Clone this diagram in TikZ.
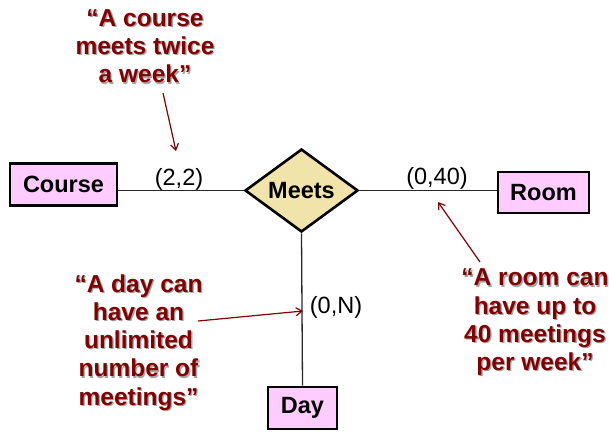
\documentclass[tikz,border=0pt]{standalone}
\usepackage{fontspec}
\setmainfont{Liberation Sans}
\usetikzlibrary{shapes.geometric,arrows.meta}
\definecolor{notered}{RGB}{130,0,0}
\definecolor{entpink}{RGB}{255,204,255}
\definecolor{relkhaki}{RGB}{240,228,170}
\definecolor{linegray}{RGB}{40,40,40}
% text with a soft grey drop shadow
\newcommand\shtxt[1]{\makebox[0pt][l]{\hspace{1.3pt}\raisebox{-1.3pt}{\textcolor{black!35}{#1}}}#1}
\tikzset{
  entity/.style={draw=black, line width=2.6pt, fill=entpink, inner sep=0pt,
    font=\fontsize{23.5}{27}\selectfont\bfseries},
  relship/.style={diamond, draw=black, line width=2.6pt, fill=relkhaki, inner sep=0pt,
    minimum width=113pt, minimum height=71pt, font=\fontsize{23.5}{27}\selectfont\bfseries},
  link/.style={draw=linegray, line width=1.3pt},
  card/.style={inner sep=0pt, font=\fontsize{23.5}{27}\selectfont},
  note/.style={inner sep=0pt, align=center, text=notered,
    font=\fontsize{24.5}{28.3}\selectfont\bfseries},
  pointer/.style={draw=notered, line width=1.2pt, -{Straight Barb[length=6pt,width=8pt]}}
}
\begin{document}
\begin{tikzpicture}[x=1pt,y=-1pt]
  \useasboundingbox (0,0) rectangle (609,431);
  % entities and relationship
  \node[entity, minimum width=107pt, minimum height=42pt] (course) at (63.5,184.5) {Course};
  \node[entity, minimum width=91pt, minimum height=41pt] (room) at (543.5,192.5) {Room};
  \node[entity, minimum width=69pt, minimum height=42pt] (day) at (302.5,408) {Day};
  \node[relship] (meets) at (301.5,190.5) {Meets};
  % connectors
  \draw[link] (meets.west) -- (meets.west -| course.east);
  \draw[link] (meets.east) -- (meets.east -| room.west);
  \draw[link] (meets.south) -- (day.north);
  % cardinalities
  \node[card] (c22) at (179,179) {(2,2)};
  \node[card] (c040) at (437,178) {(0,40)};
  \node[card] (c0n) at (336,307) {(0,N)};
  % annotations
  \node[note] (ncourse) at (145,47) {\shtxt{“A course}\\\shtxt{meets twice}\\\shtxt{a week”}};
  \node[note] (nday) at (138.5,343) {\shtxt{“A day can}\\\shtxt{have an}\\\shtxt{unlimited}\\\shtxt{number of}\\\shtxt{meetings”}};
  \node[note] (nroom) at (535,323) {\shtxt{“A room can}\\\shtxt{have up to}\\\shtxt{40 meetings}\\\shtxt{per week”}};
  % pointer ends
  \coordinate (pc1) at (163,93);
  \coordinate (pc2) at (176,151);
  \coordinate (pd1) at (198,321);
  \coordinate (pd2) at (303,311);
  \coordinate (pr1) at (480,262);
  \coordinate (pr2) at (438,202);
  \draw[pointer] (pc1) -- (pc2);
  \draw[pointer] (pd1) -- (pd2);
  \draw[pointer] (pr1) -- (pr2);
\end{tikzpicture}
\end{document}
